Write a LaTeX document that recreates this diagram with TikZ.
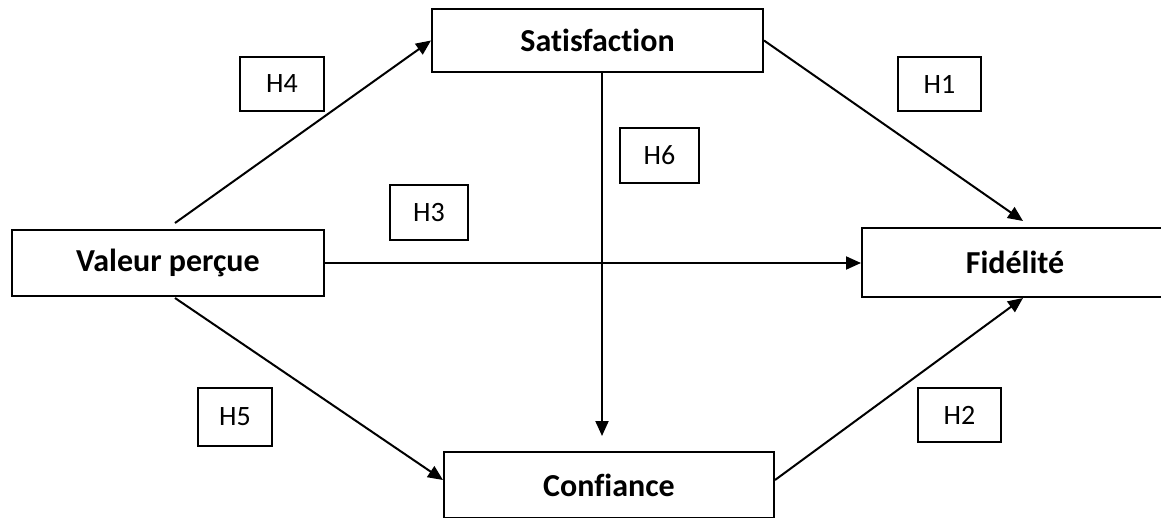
\documentclass[tikz,border=0pt]{standalone}
\usepackage{fontspec}
\setmainfont{Carlito}[Ligatures={NoCommon}]
\usetikzlibrary{arrows.meta}

\tikzset{
  concept/.style={draw=black, line width=2pt, fill=white, inner sep=0pt,
    font=\fontsize{32}{38}\selectfont\bfseries},
  hypo/.style={draw=black, line width=1.6pt, fill=white, inner sep=0pt,
    font=\fontsize{28}{33}\selectfont},
  link/.style={line width=2pt, -{Triangle[length=15pt,width=13pt]}},
}

\begin{document}
\begin{tikzpicture}[x=1pt, y=-1pt]
  \clip (0,0) rectangle (1161,517);
  \fill[white] (0,0) rectangle (1161,517);

  % constructs of the model
  \node[concept, minimum width=331pt, minimum height=63pt] (sat) at (597.5,40.5) {Satisfaction};
  \node[concept, minimum width=312pt, minimum height=66pt] (vp)  at (168,263) {Valeur perçue};
  \node[concept, minimum width=306pt, minimum height=69pt] (fid) at (1015,262.5) {Fidélité};
  \node[concept, minimum width=330pt, minimum height=66pt] (conf) at (609,485) {Confiance};

  % hypothesis labels
  \node[hypo, minimum width=84pt, minimum height=54pt] (h4) at (282,84) {H4};
  \node[hypo, minimum width=83pt, minimum height=54pt] (h1) at (939.5,84) {H1};
  \node[hypo, minimum width=78pt, minimum height=55pt] (h3) at (429,212.5) {H3};
  \node[hypo, minimum width=79pt, minimum height=55pt] (h6) at (659.5,155.5) {H6};
  \node[hypo, minimum width=74pt, minimum height=58pt] (h5) at (235,417) {H5};
  \node[hypo, minimum width=83pt, minimum height=54pt] (h2) at (959.5,415) {H2};

  % free ends of the connectors
  \coordinate (vpTop)   at ([shift={(7pt,6pt)}]vp.north);
  \coordinate (vpBot)   at ([shift={(7pt,-1pt)}]vp.south);
  \coordinate (satBot)  at ([xshift=4.5pt]sat.south);
  \coordinate (confTop) at ([shift={(-7pt,15pt)}]conf.north);
  \coordinate (fidTop)  at ([shift={(8pt,6pt)}]fid.north);
  \coordinate (fidBot)  at ([xshift=8pt]fid.south);

  % paths between the constructs
  \draw[link] (vpTop) -- (sat.west);
  \draw[link] (sat.east) -- (fidTop);
  \draw[link] (vp.east) -- (vp.east -| fid.west);
  \draw[link] (satBot) -- (confTop);
  \draw[link] (vpBot) -- ([yshift=5pt]conf.west);
  \draw[link] ([yshift=5pt]conf.east) -- (fidBot);
\end{tikzpicture}
\end{document}
